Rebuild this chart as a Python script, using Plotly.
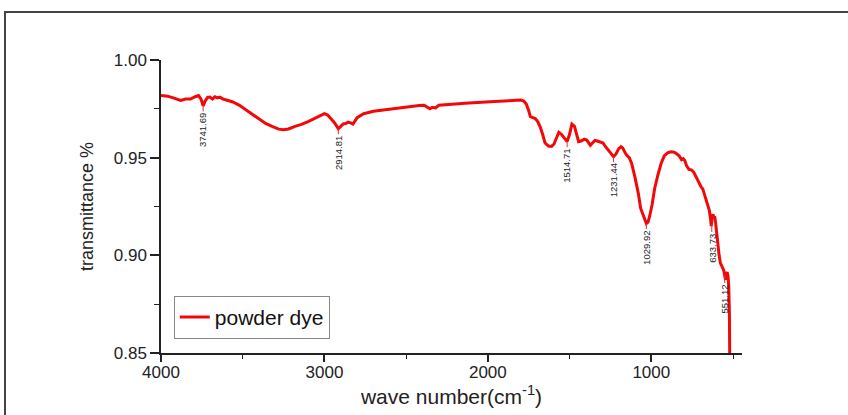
import plotly.graph_objects as go

wavenumber = [4000, 3960, 3920, 3900, 3880, 3850, 3820, 3790, 3770, 3755, 3742, 3730, 3715, 3700, 3685, 3670, 3655, 3640, 3620, 3600,
              3560, 3520, 3480, 3440, 3400, 3360, 3320, 3280, 3250, 3220, 3180, 3140, 3100, 3060, 3020, 3000, 2980, 2960, 2940, 2925,
              2915, 2900, 2885, 2870, 2855, 2840, 2825, 2800, 2760, 2700, 2640, 2580, 2520, 2460, 2420, 2390, 2370, 2355, 2340, 2320,
              2300, 2260, 2200, 2140, 2080, 2020, 1960, 1900, 1860, 1820, 1800, 1780, 1765, 1750, 1740, 1725, 1710, 1695, 1680, 1665,
              1650, 1630, 1610, 1595, 1580, 1566, 1550, 1535, 1515, 1500, 1486, 1470, 1455, 1445, 1430, 1410, 1395, 1385, 1373, 1360,
              1345, 1330, 1312, 1295, 1280, 1265, 1250, 1231, 1215, 1200, 1185, 1175, 1160, 1150, 1135, 1120, 1100, 1080, 1065, 1050,
              1040, 1030, 1020, 1010, 995, 980, 960, 940, 920, 900, 880, 860, 845, 830, 815, 805, 795, 785, 770, 755,
              740, 725, 710, 695, 685, 670, 655, 645, 638, 633, 628, 622, 617, 612, 607, 600, 595, 585, 577, 570,
              563, 556, 551, 546, 541, 536, 530, 526, 522, 520]

transmittance = [0.9818, 0.9815, 0.9805, 0.9798, 0.9793, 0.9800, 0.9800, 0.9812, 0.9818, 0.9800, 0.9765, 0.9790, 0.9808, 0.9810, 0.9800, 0.9812, 0.9806, 0.9810, 0.9800, 0.9795,
                 0.9785, 0.9768, 0.9745, 0.9725, 0.9700, 0.9675, 0.9660, 0.9646, 0.9643, 0.9647, 0.9660, 0.9670, 0.9685, 0.9700, 0.9718, 0.9725, 0.9718, 0.9700, 0.9680, 0.9662,
                 0.9648, 0.9660, 0.9673, 0.9675, 0.9682, 0.9678, 0.9672, 0.9705, 0.9725, 0.9738, 0.9745, 0.9752, 0.9758, 0.9763, 0.9767, 0.9768, 0.9760, 0.9750, 0.9758, 0.9755,
                 0.9768, 0.9772, 0.9775, 0.9778, 0.9782, 0.9785, 0.9788, 0.9790, 0.9793, 0.9797, 0.9795, 0.9790, 0.9775, 0.9740, 0.9710, 0.9705, 0.9700, 0.9685, 0.9658, 0.9620,
                 0.9575, 0.9560, 0.9558, 0.9570, 0.9605, 0.9630, 0.9620, 0.9605, 0.9582, 0.9620, 0.9672, 0.9660, 0.9610, 0.9582, 0.9585, 0.9595, 0.9590, 0.9575, 0.9563, 0.9575,
                 0.9588, 0.9585, 0.9578, 0.9575, 0.9556, 0.9540, 0.9525, 0.9505, 0.9520, 0.9545, 0.9556, 0.9550, 0.9525, 0.9512, 0.9500, 0.9470, 0.9400, 0.9320, 0.9240, 0.9210,
                 0.9185, 0.9163, 0.9170, 0.9200, 0.9260, 0.9340, 0.9410, 0.9470, 0.9510, 0.9525, 0.9530, 0.9528, 0.9520, 0.9510, 0.9490, 0.9495, 0.9485, 0.9460, 0.9440, 0.9438,
                 0.9425, 0.9400, 0.9370, 0.9350, 0.9340, 0.9300, 0.9260, 0.9230, 0.9190, 0.9150, 0.9200, 0.9210, 0.9190, 0.9200, 0.9170, 0.9110, 0.9080, 0.9000, 0.8960, 0.8950,
                 0.8935, 0.8920, 0.8900, 0.8875, 0.8900, 0.8915, 0.8890, 0.8840, 0.8700, 0.8480]

peak_wn = [3742, 2915, 1515, 1231, 1030, 630, 551]
peak_val = [0.9765, 0.9648, 0.9582, 0.9505, 0.9163, 0.9160, 0.8900]
peak_labels = ["3741.69", "2914.81", "1514.71", "1231.44", "1029.92", "633.73", "551.12"]

x_ticks = [4000, 3000, 2000, 1000]
y_ticks = [0.85, 0.90, 0.95, 1.00]

FONT = "Liberation Sans, Arial, sans-serif"

fig = go.Figure()
fig.add_trace(go.Scatter(x=wavenumber, y=transmittance, mode="lines", name="powder dye",
                         line=dict(color="#f20808", width=3)))

for wn, v, lab in zip(peak_wn, peak_val, peak_labels):
    fig.add_annotation(x=wn, y=v, text=lab, textangle=-90, showarrow=True, arrowhead=0,
                       arrowwidth=1, arrowcolor="#e03030", ax=0, ay=24, standoff=0,
                       font=dict(family=FONT, size=9.5, color="#222"))

fig.update_layout(
    width=848, height=415,
    margin=dict(l=161, r=106, t=60, b=62),
    paper_bgcolor="white", plot_bgcolor="white",
    font=dict(family=FONT, color="#111"),
    showlegend=True,
    legend=dict(x=0.022, y=0.195, xanchor="left", yanchor="top",
                bgcolor="white", bordercolor="#888", borderwidth=1,
                font=dict(family=FONT, size=21, color="#111")),
    xaxis=dict(range=[4000, 445], tickvals=x_ticks, ticktext=[str(t) for t in x_ticks],
               showgrid=False, zeroline=False, showline=True, linecolor="#222", linewidth=1.5,
               ticks="outside", ticklen=7, tickwidth=1.5, tickcolor="#222", ticklabelstandoff=-4,
               tickfont=dict(size=17, family=FONT, color="#222"),
               minor=dict(dtick=500, tick0=0, ticks="outside", ticklen=4, tickcolor="#222", tickwidth=1.2, showgrid=False),
               title=dict(text="wave number(cm<sup>-1</sup>)", font=dict(size=21, family=FONT, color="#222"), standoff=0)),
    yaxis=dict(range=[0.85, 1.00], tickvals=y_ticks, ticktext=["%.2f" % t for t in y_ticks],
               showgrid=False, zeroline=False, showline=True, linecolor="#222", linewidth=1.5,
               ticks="outside", ticklen=9, tickwidth=1.5, tickcolor="#222",
               tickfont=dict(size=17, family=FONT, color="#222"),
               minor=dict(dtick=0.025, tick0=0.85, ticks="outside", ticklen=5, tickcolor="#222", tickwidth=1.2, showgrid=False),
               title=dict(text="transmittance %", font=dict(size=18, family=FONT, color="#222"), standoff=15)),
)

# outer frame (top and left edges)
fig.add_shape(type="path", xref="paper", yref="paper",
              path="M -0.2685,-0.3 L -0.2685,1.1638 L 1.2,1.1638",
              line=dict(color="#444", width=2))

fig.write_html("out.html")
